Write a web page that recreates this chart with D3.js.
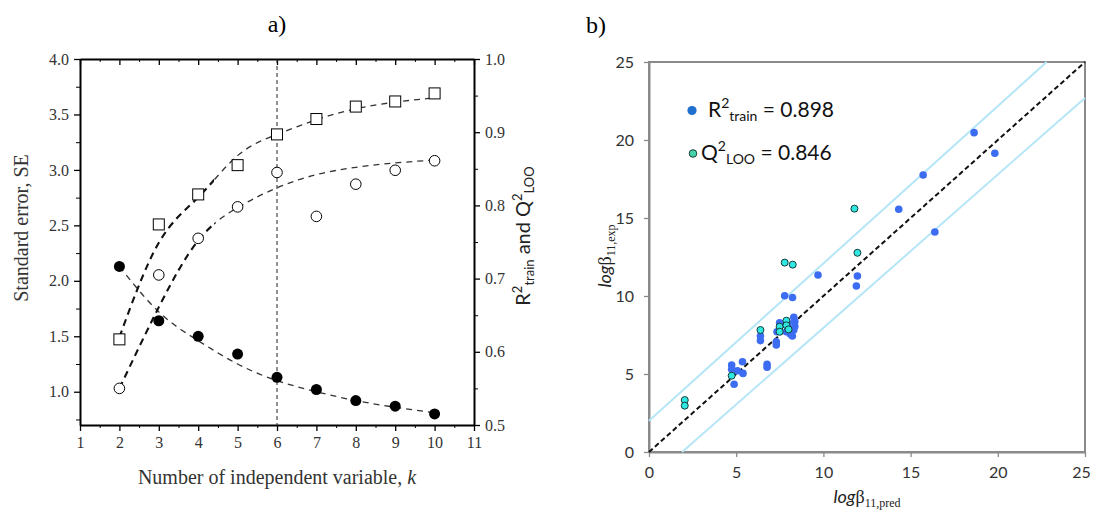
<!DOCTYPE html>
<html>
<head>
<meta charset="utf-8">
<script src="https://cdn.jsdelivr.net/npm/d3@7"></script>
<style>
  body { margin: 0; background: #fff; }
  svg { display: block; }
</style>
</head>
<body>
<svg id="chart" width="1093" height="512"></svg>
<script>
// ---- panel a data ----
var kVals = [2, 3, 4, 5, 6, 7, 8, 9, 10];
var seVals = [2.13, 1.64, 1.50, 1.34, 1.13, 1.02, 0.92, 0.87, 0.80];
var r2TrainVals = [0.617, 0.774, 0.815, 0.855, 0.897, 0.918, 0.935, 0.942, 0.953];
var q2LooVals = [0.550, 0.705, 0.755, 0.798, 0.845, 0.785, 0.829, 0.848, 0.861];
// dashed trend curves
var seFit = [2.13, 1.72, 1.46, 1.25, 1.10, 1.00, 0.92, 0.86, 0.81];
var r2TrainFit = [0.620, 0.749, 0.811, 0.868, 0.897, 0.917, 0.932, 0.941, 0.947];
var q2LooFit = [0.550, 0.661, 0.752, 0.797, 0.824, 0.842, 0.852, 0.858, 0.862];
var chosenK = 6;
var kTicks = [1, 2, 3, 4, 5, 6, 7, 8, 9, 10, 11];
var seTicks = [1.0, 1.5, 2.0, 2.5, 3.0, 3.5, 4.0];
var r2Ticks = [0.5, 0.6, 0.7, 0.8, 0.9, 1.0];

// ---- panel b data ----
var trainPoints = [
    [18.64, 20.47], [19.83, 19.15], [15.72, 17.76], [14.32, 15.56], [16.39, 14.10],
    [9.69, 11.35], [11.95, 11.28], [11.89, 10.64], [7.78, 10.02], [8.23, 9.90],
    [7.49, 8.29], [7.34, 7.71], [7.30, 7.07], [7.30, 6.86], [7.97, 8.25],
    [8.30, 8.63], [8.36, 8.36], [8.36, 8.04], [8.30, 7.82], [8.10, 7.56],
    [8.22, 7.44], [7.88, 7.71], [6.39, 7.44], [6.39, 7.14], [6.77, 5.62],
    [6.77, 5.43], [5.36, 5.79], [4.74, 5.58], [4.74, 5.30], [5.07, 5.21],
    [5.39, 5.04], [4.88, 4.34]
];
var looPoints = [
    [11.78, 15.60], [11.95, 12.77], [7.78, 12.14], [8.24, 12.01], [6.39, 7.82],
    [7.49, 8.03], [7.49, 7.71], [7.88, 8.42], [7.88, 8.12], [8.00, 7.86],
    [4.74, 4.89], [2.05, 3.33], [2.05, 2.97]
];
var upperBand = [[0, 2.0], [22.8, 25]];
var lowerBand = [[1.9, 0], [25, 22.7]];
var identityLine = [[0, 0], [25, 25]];
var logTicks = [0, 5, 10, 15, 20, 25];

var svg = d3.select('#chart');
svg.append('rect').attr('width', 1093).attr('height', 512).attr('fill', '#fff');

var serif = '"Liberation Serif", "Times New Roman", serif',
    sans = 'Lato, "Open Sans", sans-serif';

// ================= panel a =================
var ax = d3.scaleLinear().domain([1, 11]).range([80, 474]),
    ySE = d3.scaleLinear().domain([0.7, 4.0]).range([425, 59]),
    yR2 = d3.scaleLinear().domain([0.5, 1.0]).range([425, 59]);

var pa = svg.append('g');

function styleAxis(g, color, width, fontFamily, fontSize) {
    g.select('.domain').attr('stroke', color).attr('stroke-width', width);
    g.selectAll('.tick line').attr('stroke', color).attr('stroke-width', 1.3);
    g.selectAll('.tick text')
        .attr('fill', '#333')
        .style('font-family', fontFamily)
        .style('font-size', fontSize);
}

function minorAxis(axisFn, scale, values, size) {
    return axisFn(scale).tickValues(values).tickSize(size).tickFormat('');
}

var halfK = d3.range(1.5, 11, 1),
    minorSE = d3.range(0.75, 4, 0.5),
    minorR2 = d3.range(0.55, 1, 0.1);

// bottom
pa.append('g').attr('transform', 'translate(0,425)')
    .call(minorAxis(d3.axisBottom, ax, halfK, 3))
    .call(function(g) { g.select('.domain').remove(); g.selectAll('line').attr('stroke', '#000'); });
var aBottom = pa.append('g').attr('transform', 'translate(0,425)')
    .call(d3.axisBottom(ax).tickValues(kTicks).tickSize(6).tickSizeOuter(0).tickPadding(6).tickFormat(d3.format('d')));
styleAxis(aBottom, '#000', 2, serif, '16px');

// top (inward ticks, no labels)
pa.append('g').attr('transform', 'translate(0,59)')
    .call(minorAxis(d3.axisBottom, ax, halfK, 3))
    .call(function(g) { g.select('.domain').remove(); g.selectAll('line').attr('stroke', '#000'); });
var aTop = pa.append('g').attr('transform', 'translate(0,59)')
    .call(d3.axisBottom(ax).tickValues(kTicks).tickSize(6).tickSizeOuter(0).tickFormat(''));
styleAxis(aTop, '#000', 2, serif, '16px');

// left
pa.append('g').attr('transform', 'translate(80,0)')
    .call(minorAxis(d3.axisLeft, ySE, minorSE, 4))
    .call(function(g) { g.select('.domain').remove(); g.selectAll('line').attr('stroke', '#000'); });
var aLeft = pa.append('g').attr('transform', 'translate(80,0)')
    .call(d3.axisLeft(ySE).tickValues(seTicks).tickSize(6).tickSizeOuter(0).tickPadding(5).tickFormat(d3.format('.1f')));
styleAxis(aLeft, '#000', 2, serif, '16px');

// right
pa.append('g').attr('transform', 'translate(474,0)')
    .call(minorAxis(d3.axisRight, yR2, minorR2, 4))
    .call(function(g) { g.select('.domain').remove(); g.selectAll('line').attr('stroke', '#000'); });
var aRight = pa.append('g').attr('transform', 'translate(474,0)')
    .call(d3.axisRight(yR2).tickValues(r2Ticks).tickSize(6).tickSizeOuter(0).tickPadding(5).tickFormat(d3.format('.1f')));
styleAxis(aRight, '#000', 2, serif, '16px');

// vertical marker at chosen k
pa.append('line')
    .attr('x1', ax(chosenK)).attr('x2', ax(chosenK))
    .attr('y1', ySE.range()[1]).attr('y2', ySE.range()[0])
    .attr('stroke', '#222').attr('stroke-width', 1)
    .attr('stroke-dasharray', '4,3');

function fitLine(yScale, vals) {
    return d3.line()
        .curve(d3.curveNatural)
        .x(function(d, i) { return ax(kVals[i]); })
        .y(function(d) { return yScale(d); })(vals);
}

// the R2 / Q2 trends are drawn heavier on their steep left part
var defs = svg.append('defs'),
    splitX = ax(4.4);
defs.append('clipPath').attr('id', 'clipHeavy')
    .append('rect').attr('x', 0).attr('y', 0).attr('width', splitX).attr('height', 512);
defs.append('clipPath').attr('id', 'clipLight')
    .append('rect').attr('x', splitX).attr('y', 0).attr('width', 1093 - splitX).attr('height', 512);

pa.append('path')
    .attr('d', fitLine(ySE, seFit))
    .attr('fill', 'none').attr('stroke', '#333')
    .attr('stroke-width', 1.3).attr('stroke-dasharray', '6,5');

[r2TrainFit, q2LooFit].forEach(function(vals) {
    var d = fitLine(yR2, vals);
    pa.append('path').attr('d', d)
        .attr('clip-path', 'url(#clipHeavy)')
        .attr('fill', 'none').attr('stroke', '#111')
        .attr('stroke-width', 2.1).attr('stroke-dasharray', '7,5');
    pa.append('path').attr('d', d)
        .attr('clip-path', 'url(#clipLight)')
        .attr('fill', 'none').attr('stroke', '#333')
        .attr('stroke-width', 1.3).attr('stroke-dasharray', '6,5');
});

// markers
pa.selectAll('.se').data(seVals).enter().append('circle')
    .attr('cx', function(d, i) { return ax(kVals[i]); })
    .attr('cy', function(d) { return ySE(d); })
    .attr('r', 5.5).attr('fill', '#000');

pa.selectAll('.q2').data(q2LooVals).enter().append('circle')
    .attr('cx', function(d, i) { return ax(kVals[i]); })
    .attr('cy', function(d) { return yR2(d); })
    .attr('r', 5.3).attr('fill', '#fff').attr('stroke', '#000').attr('stroke-width', 1);

pa.selectAll('.r2').data(r2TrainVals).enter().append('rect')
    .attr('x', function(d, i) { return ax(kVals[i]) - 5.5; })
    .attr('y', function(d) { return yR2(d) - 5.5; })
    .attr('width', 11).attr('height', 11)
    .attr('fill', '#fff').attr('stroke', '#000').attr('stroke-width', 1);

// titles
pa.append('text').attr('x', 277).attr('y', 32)
    .attr('text-anchor', 'middle')
    .style('font-family', serif).style('font-size', '24px')
    .text('a)');

var xt = pa.append('text').attr('x', 277).attr('y', 484)
    .attr('text-anchor', 'middle').attr('fill', '#333')
    .style('font-family', serif).style('font-size', '20px');
xt.append('tspan').text('Number of independent variable, ');
xt.append('tspan').style('font-style', 'italic').text('k');

pa.append('text')
    .attr('transform', 'translate(28,228) rotate(-90)')
    .attr('text-anchor', 'middle').attr('fill', '#333')
    .style('font-family', serif).style('font-size', '20px')
    .text('Standard error, SE');

var rt = pa.append('text')
    .attr('transform', 'translate(530,236) rotate(-90)')
    .attr('text-anchor', 'middle').attr('fill', '#222')
    .style('font-family', sans).style('font-size', '20px');
rt.append('tspan').text('R');
rt.append('tspan').attr('dy', -8).style('font-size', '13px').text('2');
rt.append('tspan').attr('dy', 12).style('font-size', '13px').text('train');
rt.append('tspan').attr('dy', -4).text(' and Q');
rt.append('tspan').attr('dy', -8).style('font-size', '13px').text('2');
rt.append('tspan').attr('dy', 12).style('font-size', '13px').text('LOO');

// ================= panel b =================
var bx = d3.scaleLinear().domain([0, 25]).range([649, 1085]),
    by = d3.scaleLinear().domain([0, 25]).range([452, 62]);

var pb = svg.append('g');

pb.append('rect')
    .attr('x', bx(0)).attr('y', by(25))
    .attr('width', bx(25) - bx(0)).attr('height', by(0) - by(25))
    .attr('fill', 'none').attr('stroke', '#8a8a8a').attr('stroke-width', 2);

var bLeft = pb.append('g').attr('transform', 'translate(' + bx(0) + ',0)')
    .call(d3.axisLeft(by).tickValues(logTicks).tickSize(5).tickSizeOuter(0).tickPadding(10));
styleAxis(bLeft, '#8a8a8a', 2, sans, '16px');
var bBottom = pb.append('g').attr('transform', 'translate(0,' + by(0) + ')')
    .call(d3.axisBottom(bx).tickValues(logTicks).tickSize(5).tickSizeOuter(0).tickPadding(10));
styleAxis(bBottom, '#8a8a8a', 2, sans, '16px');
// the last label sits on the right edge of the page
bBottom.selectAll('.tick text').filter(function(d) { return d === 25; }).attr('dx', -4);

var pline = d3.line()
    .x(function(d) { return bx(d[0]); })
    .y(function(d) { return by(d[1]); });

[upperBand, lowerBand].forEach(function(b) {
    pb.append('path').attr('d', pline(b))
        .attr('fill', 'none').attr('stroke', '#b5e6f7').attr('stroke-width', 2);
});
pb.append('path').attr('d', pline(identityLine))
    .attr('fill', 'none').attr('stroke', '#111').attr('stroke-width', 2)
    .attr('stroke-dasharray', '5,3');

pb.selectAll('.train').data(trainPoints).enter().append('circle')
    .attr('cx', function(d) { return bx(d[0]); })
    .attr('cy', function(d) { return by(d[1]); })
    .attr('r', 3.8).attr('fill', '#3b6cf2');

pb.selectAll('.loo').data(looPoints).enter().append('circle')
    .attr('cx', function(d) { return bx(d[0]); })
    .attr('cy', function(d) { return by(d[1]); })
    .attr('r', 3.5).attr('fill', '#2fe8e2')
    .attr('stroke', '#153c3c').attr('stroke-width', 1);

// legend
pb.append('circle').attr('cx', 692).attr('cy', 110.5).attr('r', 4.6).attr('fill', '#1f6fce');
pb.append('circle').attr('cx', 693).attr('cy', 153.5).attr('r', 3.8)
    .attr('fill', '#45d3ae').attr('stroke', '#1c3a34').attr('stroke-width', 1);

function legendText(x, y, letter, sub, value) {
    var t = pb.append('text').attr('x', x).attr('y', y).attr('fill', '#111')
        .style('font-family', sans).style('font-size', '21px');
    t.append('tspan').text(letter);
    t.append('tspan').attr('dy', -9).style('font-size', '14px').text('2');
    t.append('tspan').attr('dy', 13).style('font-size', '14px').text(sub);
    t.append('tspan').attr('dy', -4).text(' = ' + value);
}
legendText(708, 117, 'R', 'train', '0.898');
legendText(701, 160, 'Q', 'LOO', '0.846');

pb.append('text').attr('x', 596).attr('y', 33)
    .attr('text-anchor', 'middle')
    .style('font-family', serif).style('font-size', '24px')
    .text('b)');

function betaLabel(t, sub) {
    t.append('tspan').style('font-family', sans).style('font-style', 'italic').text('log');
    t.append('tspan').style('font-family', serif).text('\u03b2');
    t.append('tspan').attr('dy', 4).style('font-family', serif).style('font-size', '12px').text(sub);
}
betaLabel(pb.append('text')
    .attr('transform', 'translate(611,256) rotate(-90)')
    .attr('text-anchor', 'middle').attr('fill', '#222')
    .style('font-size', '18px'), '11,exp');
betaLabel(pb.append('text')
    .attr('x', 867).attr('y', 503)
    .attr('text-anchor', 'middle').attr('fill', '#222')
    .style('font-size', '18px'), '11,pred');
</script>
</body>
</html>
